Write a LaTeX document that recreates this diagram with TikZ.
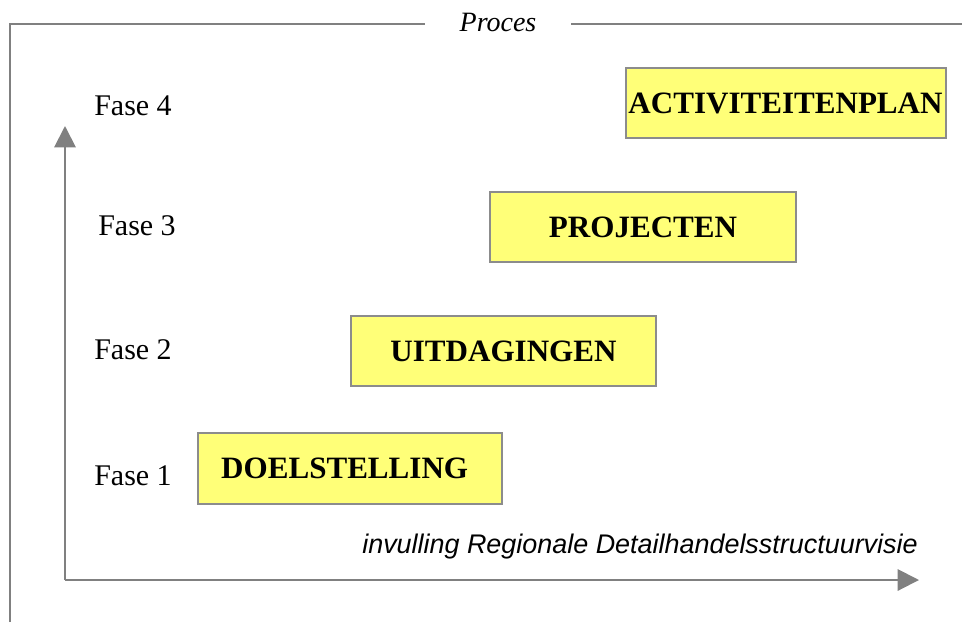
\documentclass[tikz,border=0pt]{standalone}
\usepackage{fontspec}
\setmainfont{Liberation Serif}
\newfontfamily\axisfont{Liberation Sans}
\usetikzlibrary{arrows.meta}
\newlength{\BoxHeight}
\setlength{\BoxHeight}{53pt}
\definecolor{framegray}{RGB}{128,128,128}
\definecolor{boxgray}{RGB}{140,140,140}
\definecolor{phaseyellow}{RGB}{255,255,120}
\tikzset{
  phase box/.style={draw=boxgray, line width=1.5pt, fill=phaseyellow,
    minimum height=\BoxHeight, inner sep=0pt,
    font=\fontsize{23.3}{27}\selectfont\bfseries},
  phase label/.style={font=\fontsize{22.5}{27}\selectfont, inner sep=0pt},
  axis arrow/.style={framegray, line width=1.5pt,
    -{Triangle[length=16pt, width=16pt]}},
}

\begin{document}
\begin{tikzpicture}[x=0.75pt, y=-0.75pt]
  \useasboundingbox (0,0) rectangle (962,622);

  % frame with title
  \coordinate (frame top left) at (10,24);
  \coordinate (frame top right) at (962,24);
  \coordinate (frame bottom left) at (10,622);
  \draw[framegray, line width=1.5pt]
    (frame bottom left) -- (frame top left) -- (frame top right);
  \node[fill=white, inner xsep=26pt, inner ysep=2pt,
    font=\fontsize{21}{25}\selectfont\itshape] (title) at (498,22) {Proces};

  % axes
  \coordinate (origin) at (65,580);
  \coordinate (y end) at (65,126);
  \coordinate (x end) at (919,580);
  \draw[axis arrow] (origin) -- (y end);
  \draw[axis arrow] (origin) -- (x end);
  \node[anchor=east, inner sep=0pt, font=\fontsize{20.2}{24}\selectfont\axisfont\itshape]
    (x label) at (918,547) {invulling Regionale Detailhandelsstructuurvisie};

  % phases
  \node[phase label] (fase1) at (133,476) {Fase 1};
  \node[phase label] (fase2) at (133,350) {Fase 2};
  \node[phase label] (fase3) at (137,226) {Fase 3};
  \node[phase label] (fase4) at (133,106) {Fase 4};

  \node[phase box, minimum width=228pt] (doel) at (350,468.5) {DOELSTELLING\hspace*{8pt}};
  \node[phase box, minimum width=229pt] (uitd) at (503.5,351) {UITDAGINGEN};
  \node[phase box, minimum width=229pt] (proj) at (643,227) {PROJECTEN};
  \node[phase box, minimum width=240pt] (activ) at (785.5,103) {ACTIVITEITENPLAN};

\end{tikzpicture}
\end{document}
